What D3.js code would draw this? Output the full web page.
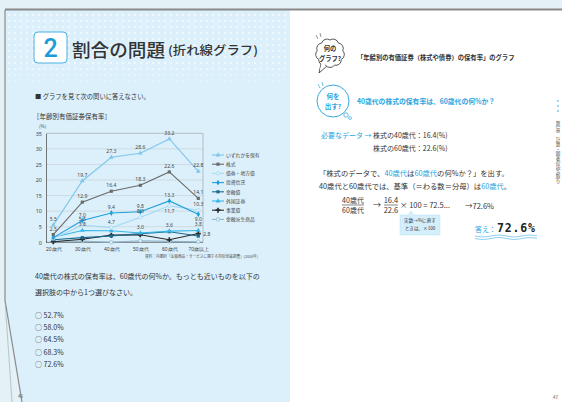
<!DOCTYPE html>
<html><head><meta charset="utf-8">
<script src="https://cdn.jsdelivr.net/npm/d3@7"></script>
<style>
html,body{margin:0;padding:0;background:#e4f1f6;}
svg{display:block;font-family:"Noto Sans CJK JP","Noto Sans",sans-serif;}
</style></head>
<body>
<svg id="c" width="562" height="402"></svg>
<script>
// ---------- data ----------
const categories = ["20歳代","30歳代","40歳代","50歳代","60歳代","70歳以上"];
const seriesNames = ["いずれかを保有","株式","債券・地方債","投資信託","金融債","外国証券","事業債","金融派生商品"];
const anyHeld    = [5.5, 19.7, 27.3, 28.6, 33.2, 22.8];
const stocks     = [2.5, 12.9, 16.4, 18.3, 22.6, 14.1];
const govBonds   = [1.2, 5.5, 4.7, 8.0, 11.7, 10.3];
const trusts     = [1.5, 7.0, 9.4, 9.8, 13.3, 9.0];
const finBonds   = [0.8, 1.5, 2.0, 2.8, 3.4, 2.0];
const foreignSec = [1.6, 3.8, 3.7, 3.0, 3.6, 3.8];
const corpBonds  = [0.2, 1.0, 2.3, 2.4, 0.8, 2.8];
const derivs     = [0.3, 0.4, 0.0, 0.5, 0.3, 0.2];
const yTicks = [0,5,10,15,20,25,30,35];
const choices = ["52.7%","58.0%","64.5%","68.3%","72.6%"];
// which points carry value labels
const labelShown = [
  [1,1,1,1,1,1],[1,1,1,1,1,1],[0,1,1,1,1,1],[0,1,1,1,1,1],
  [0,0,0,0,0,0],[0,1,0,1,1,1],[0,0,0,0,0,1],[0,0,0,0,0,0]
];
const seriesValues = [anyHeld,stocks,govBonds,trusts,finBonds,foreignSec,corpBonds,derivs];

// ---------- styles ----------
const colors = ["#80c6ea","#6a6a6a","#a6daf2","#1f9edd","#1b6a90","#38b6ea","#2a2a2a","#8db6ca"];
const symbols = [d3.symbolTriangle,d3.symbolSquare,d3.symbolCircle,d3.symbolDiamond,d3.symbolSquare,d3.symbolTriangle,d3.symbolCross,d3.symbolCircle];
const openMarker = [false,false,true,false,false,false,false,true];
const labelPlace = {"2-4":"below","3-5":"below","6-5":"right"};
const pageBg = "#dcf0fb";

const svg = d3.select("#c");
const defs = svg.append("defs");
const pat = defs.append("pattern").attr("id","dots").attr("width",6).attr("height",6).attr("patternUnits","userSpaceOnUse");
pat.append("circle").attr("cx",3).attr("cy",3).attr("r",0.9).attr("fill","#fff").attr("opacity",0.85);
const fade = defs.append("linearGradient").attr("id","fade").attr("x1",0).attr("y1",0).attr("x2",0).attr("y2",1);
fade.append("stop").attr("offset","0").attr("stop-color","#fff").attr("stop-opacity",1);
fade.append("stop").attr("offset","0.75").attr("stop-color","#fff").attr("stop-opacity",0.9);
fade.append("stop").attr("offset","1").attr("stop-color","#fff").attr("stop-opacity",0);
const mask = defs.append("mask").attr("id","fm");
mask.append("rect").attr("x",0).attr("y",10).attr("width",290).attr("height",78).attr("fill","url(#fade)");

// ---------- pages ----------
svg.append("rect").attr("width",562).attr("height",402).attr("fill","#e4f1f6");
svg.append("path").attr("d","M5,10 L290,10 L290,402 L22,402 L5,300 Z").attr("fill",pageBg);
svg.append("rect").attr("x",290).attr("y",10).attr("width",272).attr("height",392).attr("fill","#fff");
svg.append("rect").attr("x",5).attr("y",11).attr("width",285).attr("height",76).attr("fill","url(#dots)").attr("mask","url(#fm)");
svg.append("path").attr("d","M5,10 L5,300 L22,402").attr("fill","none").attr("stroke","#8a8a8a").attr("stroke-width",1.2);
svg.append("path").attr("d","M5,300 L12,402").attr("fill","none").attr("stroke","#9aa").attr("stroke-width",0.6);
svg.append("line").attr("x1",5).attr("x2",562).attr("y1",9.5).attr("y2",9.5).attr("stroke","#888").attr("stroke-width",2);

// ---------- left page header ----------
svg.append("rect").attr("x",34).attr("y",32).attr("width",33).attr("height",31).attr("rx",4)
  .attr("fill","#fff").attr("stroke","#49b0e3").attr("stroke-width",1);
svg.append("text").attr("x",50.5).attr("y",57).attr("text-anchor","middle").attr("font-size",25)
  .attr("font-family","Roboto, 'Noto Sans', sans-serif").attr("font-weight",500).attr("fill","#1d9bd8").text("2");
svg.append("text").attr("x",72).attr("y",56.5).attr("font-size",18.5).attr("font-weight",500).attr("fill","#333")
  .attr("textLength",93).attr("lengthAdjust","spacingAndGlyphs").text("割合の問題");
svg.append("text").attr("x",168).attr("y",55).attr("font-size",12).attr("font-weight",500).attr("fill","#333")
  .attr("textLength",90).attr("lengthAdjust","spacingAndGlyphs").text("(折れ線グラフ)");

svg.append("text").attr("x",35).attr("y",99).attr("font-size",6.3).attr("fill","#333").text("■ グラフを見て次の問いに答えなさい。");
svg.append("text").attr("x",33).attr("y",118.5).attr("font-size",6.5).attr("fill","#333").text("［年齢別有価証券保有率］");

// ---------- chart ----------
const x = d3.scalePoint().domain(categories).range([53.3,198.3]);
const y = d3.scaleLinear().domain([0,35]).range([242.3,133.3]);
const X0 = 46, X1 = 203;
const g = svg.append("g");
g.selectAll("line.grid").data(yTicks.filter(t=>t>0)).join("line")
  .attr("x1",X0).attr("x2",X1).attr("y1",d=>y(d)).attr("y2",d=>y(d))
  .attr("stroke",d=>d===35?"#9a9a9a":"#c4ccd0").attr("stroke-width",0.6);
g.append("line").attr("x1",X1).attr("x2",X1).attr("y1",y(35)).attr("y2",y(0)).attr("stroke","#9a9a9a").attr("stroke-width",0.6);
const yAxis = g.append("g").attr("transform",`translate(${X0},0)`)
  .call(d3.axisLeft(y).tickValues(yTicks).tickSize(0).tickPadding(4));
yAxis.select(".domain").attr("stroke","#555").attr("stroke-width",0.8);
yAxis.selectAll("text").attr("font-size",5.5).attr("fill","#444").attr("font-family","'Noto Sans',sans-serif");
const xAxis = g.append("g").attr("transform",`translate(0,${y(0)})`)
  .call(d3.axisBottom(x).tickSize(0).tickPadding(5));
xAxis.select(".domain").attr("d",`M${X0},0H${X1}`).attr("stroke","#555").attr("stroke-width",0.8);
xAxis.selectAll("text").attr("font-size",5).attr("fill","#444");
g.append("text").attr("x",39).attr("y",128).attr("font-size",4.5).attr("fill","#444").text("(%)");

const line = d3.line().x((d,i)=>x(categories[i])).y(d=>y(d));
const drawOrder = [7,6,4,5,2,3,1,0];
drawOrder.forEach(si=>{
  const vals = seriesValues[si];
  g.append("path").datum(vals).attr("d",line).attr("fill","none")
    .attr("stroke",colors[si]).attr("stroke-width",1.1);
  const sym = d3.symbol().type(symbols[si]).size(symbols[si]===d3.symbolCross?14:10);
  g.selectAll(null).data(vals).join("path")
    .attr("transform",(d,i)=>`translate(${x(categories[i])},${y(d)})`)
    .attr("d",sym)
    .attr("fill",openMarker[si]?pageBg:colors[si])
    .attr("stroke",openMarker[si]?colors[si]:"none").attr("stroke-width",0.7);
});
// value labels
seriesValues.forEach((vals,si)=>{
  vals.forEach((v,i)=>{
    if(!labelShown[si][i]) return;
    const p = labelPlace[si+"-"+i] || "above";
    let lx = x(categories[i]), ly = y(v)-4, anchor="middle";
    if(p==="below") ly = y(v)+7;
    if(p==="right"){ lx = lx+5; ly = y(v)+2; anchor="start"; }
    g.append("text").attr("x",lx).attr("y",ly).attr("text-anchor",anchor)
      .attr("font-size",5).attr("fill","#444").attr("font-family","'Noto Sans',sans-serif")
      .text(v.toFixed(1));
  });
});
// legend
seriesNames.forEach((n,si)=>{
  const ly = 155 + si*9.2;
  g.append("line").attr("x1",212).attr("x2",224).attr("y1",ly).attr("y2",ly).attr("stroke",colors[si]).attr("stroke-width",1.1);
  g.append("path").attr("transform",`translate(218,${ly})`)
    .attr("d",d3.symbol().type(symbols[si]).size(symbols[si]===d3.symbolCross?14:10))
    .attr("fill",openMarker[si]?pageBg:colors[si]).attr("stroke",openMarker[si]?colors[si]:"none").attr("stroke-width",0.7);
  g.append("text").attr("x",226).attr("y",ly+1.8).attr("font-size",4.8).attr("fill","#444").text(n);
});
g.append("text").attr("x",258).attr("y",258).attr("text-anchor","end").attr("font-size",4)
  .attr("fill","#555").attr("textLength",113).attr("lengthAdjust","spacingAndGlyphs")
  .text("資料：内閣府「金融商品・サービスに関する特別世論調査」(2004年)");

// ---------- question ----------
svg.append("text").attr("x",35).attr("y",279).attr("font-size",7).attr("fill","#333")
  .text("40歳代の株式の保有率は、60歳代の何%か。もっとも近いものを以下の");
svg.append("text").attr("x",35).attr("y",295).attr("font-size",7).attr("fill","#333")
  .text("選択肢の中から1つ選びなさい。");
choices.forEach((c,i)=>{
  svg.append("text").attr("x",35).attr("y",317.5+i*12.4).attr("font-size",7).attr("fill","#333").text("○ "+c);
});
svg.append("text").attr("x",18).attr("y",398).attr("font-size",4.5).attr("fill","#555").text("46");

// ---------- right page ----------
// cloud bubble (scalloped outline)
function scallop(cx, cy, R, n){
  const pts = d3.range(n).map(k=>{const a=-Math.PI/2 + k/n*2*Math.PI; return [cx+R*Math.cos(a), cy+R*Math.sin(a)];});
  const chord = 2*R*Math.sin(Math.PI/n);
  const r = chord*0.62;
  let d = `M${pts[0][0]},${pts[0][1]}`;
  for(let k=1;k<=n;k++){ const p = pts[k%n]; d += ` A${r},${r} 0 0 1 ${p[0]},${p[1]}`; }
  return d + "Z";
}
const cx=330, cy=53;
svg.append("path").attr("d",`M${cx-9},${cy+11} L${cx-11},${cy+20} L${cx-3},${cy+13} Z`).attr("fill","#fff").attr("stroke","#444").attr("stroke-width",0.9);
svg.append("path").attr("d",scallop(cx,cy,13,9)).attr("fill","#fff").attr("stroke","#444").attr("stroke-width",0.9);
svg.append("path").attr("d",`M${cx-8.5},${cy+10} L${cx-10},${cy+17.5} L${cx-4},${cy+12} Z`).attr("fill","#fff");
svg.append("path").attr("d","M316,35 l2,4 M320,33 l1,4").attr("stroke","#666").attr("stroke-width",0.7);
svg.append("text").attr("x",cx).attr("y",51).attr("text-anchor","middle").attr("font-size",6.3).attr("font-weight",700).attr("fill","#333").text("何の");
svg.append("text").attr("x",cx).attr("y",60.5).attr("text-anchor","middle").attr("font-size",6.3).attr("font-weight",700).attr("fill","#333").text("グラフ?");
svg.append("text").attr("x",357).attr("y",59.5).attr("font-size",6.3).attr("font-weight",700).attr("fill","#333")
  .text("「年齢別の有価証券（株式や債券）の保有率」のグラフ");

// blue bubble
svg.append("circle").attr("cx",333).attr("cy",101).attr("r",16).attr("fill","#fff").attr("stroke","#3aa8e0").attr("stroke-width",1);
svg.append("circle").attr("cx",346).attr("cy",115).attr("r",2.2).attr("fill","#fff").attr("stroke","#3aa8e0").attr("stroke-width",0.8);
svg.append("circle").attr("cx",350).attr("cy",118).attr("r",1.4).attr("fill","#fff").attr("stroke","#3aa8e0").attr("stroke-width",0.7);
svg.append("path").attr("d","M318,84 l2,4 M322,82 l1,4").attr("stroke","#3aa8e0").attr("stroke-width",0.7);
svg.append("text").attr("x",333).attr("y",99).attr("text-anchor","middle").attr("font-size",6.5).attr("font-weight",700).attr("fill","#2ba4e0").text("何を");
svg.append("text").attr("x",333).attr("y",108.5).attr("text-anchor","middle").attr("font-size",6.5).attr("font-weight",700).attr("fill","#2ba4e0").text("出す?");
svg.append("text").attr("x",357).attr("y",104).attr("font-size",6.8).attr("font-weight",700).attr("fill","#2ba4e0")
  .text("40歳代の株式の保有率は、60歳代の何%か？");

// side decoration
[101,106,111].forEach(yy=>svg.append("circle").attr("cx",558).attr("cy",yy).attr("r",1).attr("fill","#7fc8ee"));
svg.append("text").attr("x",558).attr("y",121).attr("font-size",4.6).attr("fill","#444")
  .attr("style","writing-mode: vertical-rl").text("第1章　計算・図表の読み取り");

// explanation
const blue = "#2ba4e0", dark = "#333";
svg.append("text").attr("x",321).attr("y",137.5).attr("font-size",7).attr("fill",blue).text("必要なデータ →");
svg.append("text").attr("x",373).attr("y",137.5).attr("font-size",7).attr("fill",dark).text("株式の40歳代：16.4(%)");
svg.append("text").attr("x",373).attr("y",150.8).attr("font-size",7).attr("fill",dark).text("株式の60歳代：22.6(%)");
const t1 = svg.append("text").attr("x",319).attr("y",176).attr("font-size",7.3).attr("fill",dark);
[["「株式のデータで、",dark],["40歳代",blue],["は",dark],["60歳代",blue],["の何%か？」を出す。",dark]]
  .forEach(s=>t1.append("tspan").attr("fill",s[1]).text(s[0]));
const t2 = svg.append("text").attr("x",319).attr("y",189).attr("font-size",7.3).attr("fill",dark);
[["40歳代と60歳代では、基準（＝わる数＝分母）は",dark],["60歳代",blue],["。",dark]]
  .forEach(s=>t2.append("tspan").attr("fill",s[1]).text(s[0]));
// fraction
svg.append("text").attr("x",353).attr("y",202.5).attr("text-anchor","middle").attr("font-size",7).attr("fill",dark).text("40歳代");
svg.append("line").attr("x1",342).attr("x2",364).attr("y1",205).attr("y2",205).attr("stroke",dark).attr("stroke-width",0.6);
svg.append("text").attr("x",353).attr("y",212.5).attr("text-anchor","middle").attr("font-size",7).attr("fill",dark).text("60歳代");
svg.append("text").attr("x",373).attr("y",208).attr("font-size",8).attr("fill",dark).text("→");
svg.append("text").attr("x",391).attr("y",202.5).attr("text-anchor","middle").attr("font-size",7.5).attr("fill",dark).text("16.4");
svg.append("line").attr("x1",384).attr("x2",398).attr("y1",205).attr("y2",205).attr("stroke",dark).attr("stroke-width",0.6);
svg.append("text").attr("x",391).attr("y",212.5).attr("text-anchor","middle").attr("font-size",7.5).attr("fill",dark).text("22.6");
svg.append("text").attr("x",400).attr("y",208).attr("font-size",7.5).attr("fill",dark).text("× 100 = 72.5...");
svg.append("text").attr("x",465).attr("y",208.5).attr("font-size",7.5).attr("fill",dark).text("→72.6%");
// callout
svg.append("path").attr("d","M400,215 L408,215 L411,211 L414,215 L440,215 L440,235 L400,235 Z")
  .attr("fill","#d4eefb").attr("stroke","#b6e0f5").attr("stroke-width",0.5);
svg.append("text").attr("x",420).attr("y",222).attr("text-anchor","middle").attr("font-size",4.6).attr("fill",dark).text("実数→%に直す");
svg.append("text").attr("x",420).attr("y",230).attr("text-anchor","middle").attr("font-size",4.6).attr("fill",dark).text("ときは、×100");
// answer
svg.append("text").attr("x",475).attr("y",231.5).attr("font-size",7).attr("fill",blue).text("答え：");
svg.append("text").attr("x",497).attr("y",232).attr("font-size",11.5).attr("font-weight",700).attr("letter-spacing",0.8)
  .attr("font-family","'DejaVu Sans Mono',monospace").attr("fill","#222").text("72.6%");
const wave = d3.range(0,63,1).map(i=>[475+i, 0.9*Math.sin(i/5)]);
[236,238.5].forEach(b=>svg.append("path").attr("d",d3.line()(wave.map(p=>[p[0],p[1]+b])))
  .attr("fill","none").attr("stroke","#5bbbe9").attr("stroke-width",0.7));
svg.append("text").attr("x",553).attr("y",398.5).attr("font-size",4.5).attr("fill","#555").text("47");
</script>
</body></html>
